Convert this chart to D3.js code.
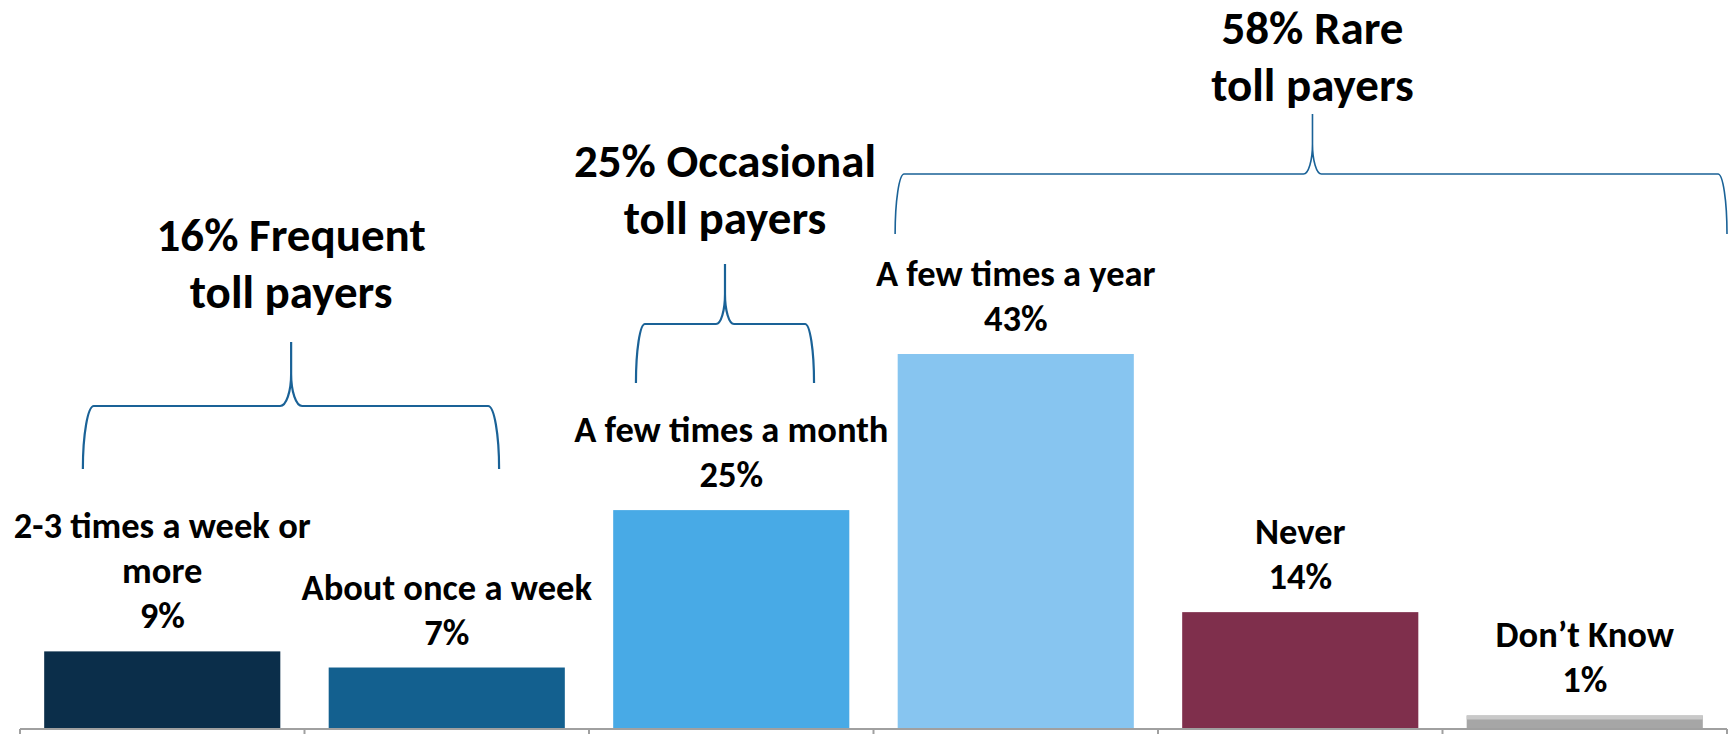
<!DOCTYPE html>
<html>
<head>
<meta charset="utf-8">
<script src="https://cdn.jsdelivr.net/npm/d3@7"></script>
<style>
  html, body { margin: 0; padding: 0; background: #ffffff; }
  svg { display: block; }
  text { font-family: Carlito, "Liberation Sans Narrow", "DejaVu Sans Condensed", sans-serif; font-weight: bold; fill: #000; }
</style>
</head>
<body>
<svg id="chart" width="1730" height="734"></svg>
<script>
// ---- data ----
const categories = ["2-3 times a week or more", "About once a week", "A few times a month", "A few times a year", "Never", "Don’t Know"];
const categoryLines = [["2-3 times a week or", "more"], ["About once a week"], ["A few times a month"], ["A few times a year"], ["Never"], ["Don’t Know"]];
const values = [8.9, 7.05, 25.1, 43.0, 13.4, 1.55];
const valueLabels = ["9%", "7%", "25%", "43%", "14%", "1%"];
const barColors = ["#0b2e4a", "#13608f", "#48aae6", "#87c5f0", "#7f2f4c", "#a6a6a6"];

const groupTitles = [["16% Frequent", "toll payers"], ["25% Occasional", "toll payers"], ["58% Rare", "toll payers"]];
// brace extents in category-index units along the axis (0 = left end, 6 = right end)
const braceStart = [0.221, 2.165, 3.076];
const braceEnd = [1.684, 2.791, 6.0];
const braceTip = [0.953, 2.478, 4.543];

// ---- layout ----
const W = 1730, H = 734;
const axisY = 729;
const svg = d3.select("#chart");

const x = d3.scaleBand().domain(categories).range([20, 1727]).paddingInner(0.17).paddingOuter(0.085);
const y = d3.scaleLinear().domain([0, 43]).range([axisY, 354]);
const u = d3.scaleLinear().domain([0, categories.length]).range([20, 1727]);

// bars
svg.append("g").selectAll("rect").data(categories).join("rect")
  .attr("x", d => x(d))
  .attr("y", (d, i) => y(values[i]))
  .attr("width", x.bandwidth())
  .attr("height", (d, i) => axisY - y(values[i]))
  .attr("fill", (d, i) => barColors[i]);
// light top strip on the grey bar
svg.append("rect")
  .attr("x", x(categories[5])).attr("y", y(values[5]))
  .attr("width", x.bandwidth()).attr("height", 4)
  .attr("fill", "#c9c9c9");

// axis
const axis = d3.axisBottom(x).tickSize(0).tickFormat("");
const ag = svg.append("g").attr("transform", `translate(0,${axisY})`).call(axis);
ag.select(".domain").attr("stroke", "#a0a0a0").attr("stroke-width", 2).attr("d", `M20,0H1727`);
ag.selectAll(".boundary").data(d3.range(categories.length + 1)).join("line")
  .attr("class", "boundary")
  .attr("x1", i => u(i)).attr("x2", i => u(i))
  .attr("y1", 0).attr("y2", 6)
  .attr("stroke", "#a0a0a0").attr("stroke-width", 2);

// bar labels
const lineH = 45, labelFont = 36.5;
categories.forEach((c, i) => {
  const cx = x(c) + x.bandwidth() / 2;
  const lines = categoryLines[i].concat([valueLabels[i]]);
  const baseY = y(values[i]) - 23;
  const t = svg.append("text").attr("text-anchor", "middle").attr("font-size", labelFont);
  lines.forEach((ln, k) => {
    t.append("tspan").attr("x", cx).attr("y", baseY - (lines.length - 1 - k) * lineH).text(ln);
  });
});

// braces
const braceLayout = [
  { yTop: 342, yMid: 406, yBot: 469, r: 11, tw: 11, th: 32, sw: 2.2 },
  { yTop: 264, yMid: 324, yBot: 383, r: 9, tw: 9, th: 30, sw: 2.2 },
  { yTop: 114, yMid: 174, yBot: 234, r: 9, tw: 9, th: 30, sw: 1.6 }
];
const titleBase = [251, 177, 44];
const titleLineH = 57, titleFont = 47;

groupTitles.forEach((g, i) => {
  const L = braceLayout[i];
  const x0 = u(braceStart[i]), x1 = u(braceEnd[i]), xc = u(braceTip[i]);
  const ry = L.yBot - L.yMid;
  const p = `M${x0},${L.yBot} A${L.r},${ry} 0 0 1 ${x0 + L.r},${L.yMid} L${xc - L.tw},${L.yMid} A${L.tw},${L.th} 0 0 0 ${xc},${L.yMid - L.th} L${xc},${L.yTop} M${xc},${L.yMid - L.th} A${L.tw},${L.th} 0 0 0 ${xc + L.tw},${L.yMid} L${x1 - L.r},${L.yMid} A${L.r},${ry} 0 0 1 ${x1},${L.yBot}`;
  svg.append("path").attr("d", p).attr("fill", "none").attr("stroke", "#1a6297").attr("stroke-width", L.sw);

  const t = svg.append("text").attr("text-anchor", "middle").attr("font-size", titleFont);
  g.forEach((ln, k) => {
    t.append("tspan").attr("x", xc).attr("y", titleBase[i] + k * titleLineH).text(ln);
  });
});
</script>
</body>
</html>
